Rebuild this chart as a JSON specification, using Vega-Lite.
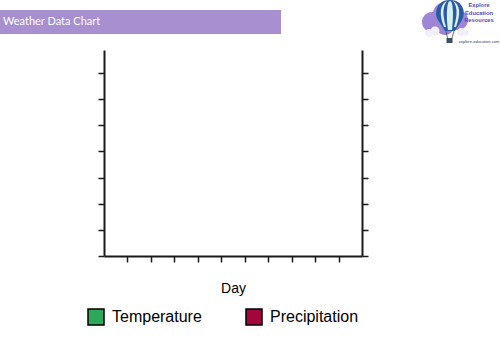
{
  "$schema": "https://vega.github.io/schema/vega-lite/v6.json",
  "padding": 0,
  "background": "white",
  "spacing": 6,
  "vconcat": [
    {
      "hconcat": [
        {
          "width": 281,
          "height": 24,
          "data": {"values": [{"label": "Weather Data Chart"}]},
          "layer": [
            {"mark": {"type": "rect", "color": "#a78fd0"}, "encoding": {}},
            {
              "mark": {"type": "text", "align": "left", "baseline": "middle", "color": "white", "font": "Lato", "fontSize": 11, "dx": 3},
              "encoding": {"text": {"field": "label"}, "x": {"value": 0}}
            }
          ]
        },
        {
          "hconcat": [
            {
              "width": 49,
              "height": 44,
              "data": {"values": [{"logo": "balloon"}]},
              "layer": [
                {"mark": {"type": "point", "filled": true, "opacity": 1, "strokeWidth": 0, "color": "#9d86d6", "size": 1936,
                  "shape": "M -0.932 0 a 0.455 0.455 0 1 0 0.91 0 a 0.455 0.455 0 1 0 -0.91 0 Z M -0.431 -0.364 a 0.545 0.545 0 1 0 1.09 0 a 0.545 0.545 0 1 0 -1.09 0 Z M 0.25 -0.091 a 0.455 0.455 0 1 0 0.91 0 a 0.455 0.455 0 1 0 -0.91 0 Z M -0.296 0.182 a 0.41 0.41 0 1 0 0.82 0 a 0.41 0.41 0 1 0 -0.82 0 Z"}, "encoding": {}},
                {"mark": {"type": "point", "filled": true, "opacity": 1, "strokeWidth": 0, "color": "#f3effa", "size": 1936,
                  "shape": "M -0.796 0.5 a 0.182 0.182 0 1 0 0.364 0 a 0.182 0.182 0 1 0 -0.364 0 Z M -0.546 0.409 a 0.205 0.205 0 1 0 0.41 0 a 0.205 0.205 0 1 0 -0.41 0 Z M 0.659 0.455 a 0.182 0.182 0 1 0 0.364 0 a 0.182 0.182 0 1 0 -0.364 0 Z M 0.932 0.5 a 0.136 0.136 0 1 0 0.272 0 a 0.136 0.136 0 1 0 -0.272 0 Z"}, "encoding": {}},
                {"mark": {"type": "point", "filled": true, "opacity": 1, "strokeWidth": 0, "color": "#2b5aa6", "size": 1936,
                  "shape": "M 0.341 -1 C 0.977 -1 1.068 -0.364 0.886 -0.091 L 0.568 0.409 L 0.114 0.409 L -0.205 -0.091 C -0.386 -0.364 -0.295 -1 0.341 -1 Z"}, "encoding": {}},
                {"mark": {"type": "point", "filled": true, "opacity": 1, "strokeWidth": 0, "color": "#d6efe9", "size": 1936,
                  "shape": "M 0.341 -0.955 C 0.477 -0.955 0.523 -0.364 0.432 0.364 L 0.25 0.364 C 0.159 -0.364 0.205 -0.955 0.341 -0.955 Z M 0.159 -0.932 C -0.114 -0.773 -0.159 -0.364 0.068 0.227 L 0.159 0.227 C -0.023 -0.364 0.023 -0.773 0.205 -0.932 Z M 0.523 -0.932 C 0.795 -0.773 0.841 -0.364 0.614 0.227 L 0.523 0.227 C 0.705 -0.364 0.659 -0.773 0.477 -0.932 Z"}, "encoding": {}},
                {"mark": {"type": "point", "filled": false, "opacity": 1, "strokeWidth": 0.7, "color": "#333333", "size": 1936,
                  "shape": "M 0.159 0.409 L 0.227 0.727 M 0.523 0.409 L 0.432 0.727"}, "encoding": {}},
                {"mark": {"type": "point", "filled": true, "opacity": 1, "strokeWidth": 0, "color": "#3b4f5e", "size": 1936,
                  "shape": "M 0.182 0.727 L 0.455 0.727 L 0.455 0.955 L 0.182 0.955 Z"}, "encoding": {}}
              ]
            },
            {
              "width": 24,
              "height": 44,
              "data": {"values": [
                {"line": 1, "kind": "name", "text": "Explore"},
                {"line": 2, "kind": "name", "text": "Education"},
                {"line": 3, "kind": "name", "text": "Resources"},
                {"line": 6, "kind": "url", "text": "explore-education.com"}
              ]},
              "encoding": {
                "y": {"field": "line", "type": "ordinal", "scale": {"type": "point", "domain": [1, 2, 3, 4, 5, 6], "padding": 0.5}, "axis": null},
                "text": {"field": "text"}
              },
              "layer": [
                {"transform": [{"filter": "datum.kind === 'name'"}],
                 "mark": {"type": "text", "font": "Liberation Sans", "fontSize": 5.8, "fontWeight": "bold", "color": "#5a4cc0", "dy": 1.5}},
                {"transform": [{"filter": "datum.kind === 'url'"}],
                 "mark": {"type": "text", "font": "Liberation Sans", "fontSize": 4, "color": "#2b3d6b", "dy": 1.5}}
              ]
            }
          ],
          "spacing": 0,
          "bounds": "flush"
        }
      ],
      "spacing": 137,
      "center": true
    },
    {
      "hconcat": [
        {"width": 97, "height": 10, "data": {"values": []}, "mark": "rect"},
        {
          "width": 258,
          "height": 206,
          "data": {"values": [
            {"day": null, "value": null, "series": "Temperature"},
            {"day": null, "value": null, "series": "Precipitation"}
          ]},
          "layer": [
            {
              "mark": {"type": "square", "filled": true, "opacity": 1, "stroke": "black", "strokeWidth": 1.5, "size": 256},
              "encoding": {
                "x": {"field": "day", "type": "quantitative", "scale": {"domain": [0, 11], "nice": false, "zero": false},
                      "axis": {"orient": "bottom", "values": [1, 2, 3, 4, 5, 6, 7, 8, 9, 10], "labels": false, "title": "Day"}},
                "y": {"field": "value", "type": "quantitative", "scale": {"domain": [0, 7.88], "nice": false, "zero": false},
                      "axis": {"orient": "left", "values": [0, 1, 2, 3, 4, 5, 6, 7], "labels": false, "title": null}},
                "color": {"field": "series", "type": "nominal",
                          "scale": {"domain": ["Temperature", "Precipitation"], "range": ["#2ea85a", "#a3063d"]},
                          "legend": {"orient": "none", "legendX": 87, "legendY": 308, "direction": "horizontal", "title": null,
                                     "symbolType": "square", "symbolSize": 256, "labelFontSize": 16, "labelFont": "Liberation Sans",
                                     "labelColor": "black", "labelOffset": 7, "columnPadding": 41, "symbolStrokeWidth": 1.5, "symbolStrokeColor": "black"}}
              }
            },
            {
              "mark": {"type": "square", "opacity": 0},
              "encoding": {
                "x": {"field": "day", "type": "quantitative",
                      "axis": {"orient": "bottom", "values": [1, 2, 3, 4, 5, 6, 7, 8, 9, 10], "labels": false, "title": "Day"}},
                "y": {"field": "value", "type": "quantitative",
                      "axis": {"orient": "right", "values": [0, 1, 2, 3, 4, 5, 6, 7], "labels": false, "title": null}}
              }
            }
          ],
          "resolve": {"axis": {"y": "independent"}}
        }
      ],
      "spacing": 0
    }
  ],
  "config": {
    "view": {"stroke": null},
    "axis": {"domainColor": "#1a1a1a", "domainWidth": 2, "tickColor": "#1a1a1a", "tickWidth": 1.5, "tickSize": 6, "grid": false,
             "titleFont": "Liberation Sans", "titleFontSize": 14, "titleFontWeight": "normal", "titleColor": "black", "titlePadding": 19}
  }
}
